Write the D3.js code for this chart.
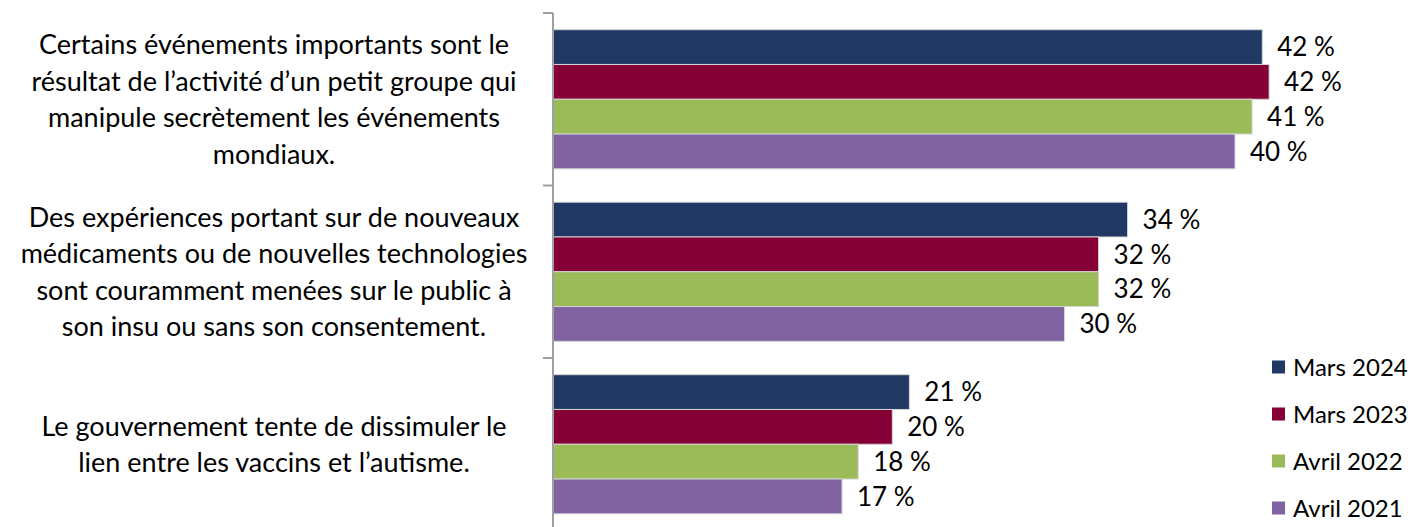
<!DOCTYPE html>
<html>
<head>
<meta charset="utf-8">
<script src="https://cdn.jsdelivr.net/npm/d3@7"></script>
<style>
  body { margin: 0; background: #fff; }
  text { font-family: Lato, "Open Sans", sans-serif; fill: #000; }
</style>
</head>
<body>
<div id="chart"></div>
<script>
var categories = [
  "Certains événements importants sont le résultat de l’activité d’un petit groupe qui manipule secrètement les événements mondiaux.",
  "Des expériences portant sur de nouveaux médicaments ou de nouvelles technologies sont couramment menées sur le public à son insu ou sans son consentement.",
  "Le gouvernement tente de dissimuler le lien entre les vaccins et l’autisme."
];
var categoryLines = [
  ["Certains événements importants sont le", "résultat de l’activité d’un petit groupe qui", "manipule secrètement les événements", "mondiaux."],
  ["Des expériences portant sur de nouveaux", "médicaments ou de nouvelles technologies", "sont couramment menées sur le public à", "son insu ou sans son consentement."],
  ["Le gouvernement tente de dissimuler le", "lien entre les vaccins et l’autisme."]
];
var series = ["Mars 2024", "Mars 2023", "Avril 2022", "Avril 2021"];
var mars2024 = [41.6, 33.7, 20.9];
var mars2023 = [42.0, 32.0, 19.9];
var avril2022 = [41.0, 32.0, 17.9];
var avril2021 = [40.0, 30.0, 16.95];
var labels2024 = ["42 %", "34 %", "21 %"];
var labels2023 = ["42 %", "32 %", "20 %"];
var labels2022 = ["41 %", "32 %", "18 %"];
var labels2021 = ["40 %", "30 %", "17 %"];

var values = [mars2024, mars2023, avril2022, avril2021];
var labels = [labels2024, labels2023, labels2022, labels2021];

var color = d3.scaleOrdinal()
  .domain(series)
  .range(["#203864", "#850035", "#9bbb59", "#8064a2"]);

var width = 1418, height = 527;
var axisX = 553;

var svg = d3.select("#chart").append("svg")
  .attr("width", width)
  .attr("height", height);

var y0 = d3.scaleBand()
  .domain(d3.range(categories.length))
  .range([13, 530.5])
  .padding(0);

var y1 = d3.scaleBand()
  .domain(series)
  .range([0, y0.bandwidth()])
  .paddingInner(0)
  .paddingOuter(0.48);

var x = d3.scaleLinear()
  .domain([0, 50])
  .range([axisX, axisX + 852.5]);

var data = [];
categories.forEach(function(c, i) {
  series.forEach(function(s, j) {
    data.push({cat: i, name: s, value: values[j][i], label: labels[j][i]});
  });
});

// bars
svg.selectAll(".bar")
  .data(data)
  .enter().append("rect")
  .attr("class", "bar")
  .attr("x", x(0))
  .attr("y", function(d) { return y0(d.cat) + y1(d.name); })
  .attr("width", function(d) { return x(d.value) - x(0); })
  .attr("height", y1.bandwidth())
  .style("fill", function(d) { return color(d.name); })
  .style("stroke", "#d4d4d4")
  .style("stroke-width", 1);

// value labels
svg.selectAll(".val")
  .data(data)
  .enter().append("text")
  .attr("class", "val")
  .attr("x", function(d) { return x(d.value) + 15; })
  .attr("y", function(d) { return y0(d.cat) + y1(d.name) + y1.bandwidth() / 2; })
  .attr("dy", "0.36em")
  .style("font-size", "26px")
  .text(function(d) { return d.label; });

// axis line with ticks at band boundaries
var axisG = svg.append("g").attr("class", "y axis");
axisG.append("line")
  .attr("x1", axisX).attr("x2", axisX)
  .attr("y1", y0.range()[0]).attr("y2", y0.range()[1])
  .style("stroke", "#a0a0a0").style("stroke-width", 2);
var bounds = d3.range(categories.length).map(function(i) { return y0(i); }).concat([y0.range()[1]]);
axisG.selectAll(".tick")
  .data(bounds)
  .enter().append("line")
  .attr("x1", axisX - 10).attr("x2", axisX)
  .attr("y1", function(d) { return d; }).attr("y2", function(d) { return d; })
  .style("stroke", "#a0a0a0").style("stroke-width", 2);

// category labels
var lineH = 36.5;
var catG = svg.selectAll(".cat")
  .data(categoryLines)
  .enter().append("text")
  .attr("class", "cat")
  .attr("text-anchor", "middle")
  .style("font-size", "27px");
catG.each(function(lines, i) {
  var cy = y0(i) + y0.bandwidth() / 2;
  var top = cy - (lines.length - 1) * lineH / 2;
  d3.select(this).selectAll("tspan")
    .data(lines)
    .enter().append("tspan")
    .attr("x", 274)
    .attr("y", function(d, k) { return top + k * lineH; })
    .attr("dy", "0.36em")
    .text(function(d) { return d; });
});

// legend
var legend = svg.selectAll(".legend")
  .data(series)
  .enter().append("g")
  .attr("class", "legend")
  .attr("transform", function(d, i) { return "translate(1272," + (367 + i * 47) + ")"; });
legend.append("rect")
  .attr("x", 0).attr("y", -6.5)
  .attr("width", 13).attr("height", 13)
  .style("fill", color);
legend.append("text")
  .attr("x", 21).attr("y", 0)
  .attr("dy", "0.36em")
  .style("font-size", "24px")
  .text(function(d) { return d; });
</script>
</body>
</html>
